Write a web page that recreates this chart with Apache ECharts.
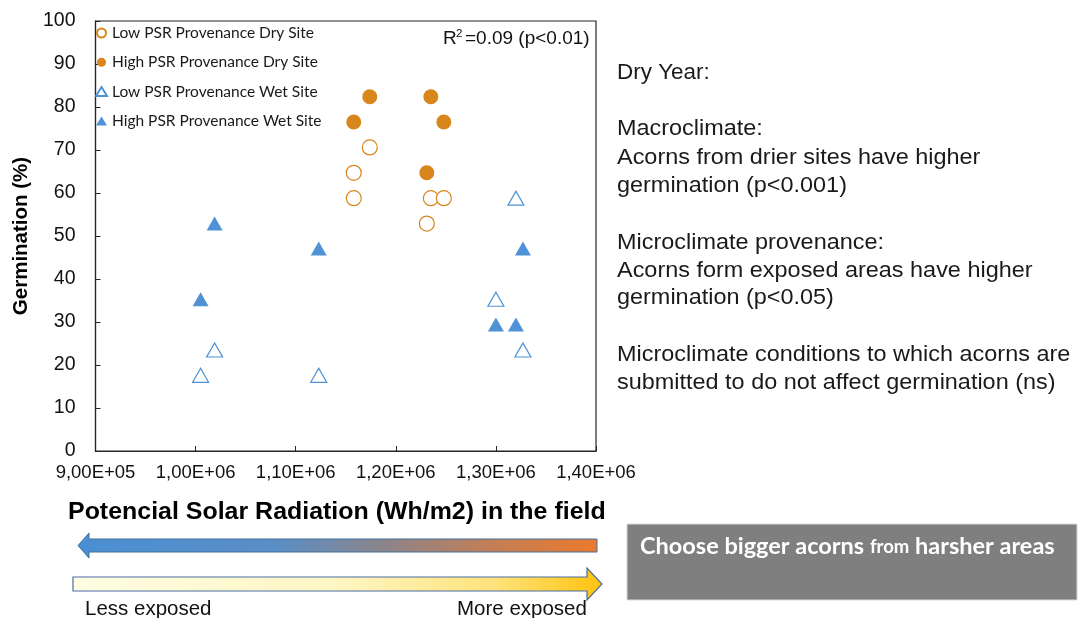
<!DOCTYPE html>
<html>
<head>
<meta charset="utf-8">
<script src="https://cdn.jsdelivr.net/npm/echarts@6/dist/echarts.min.js"></script>
<style>
html,body{margin:0;padding:0;background:#fff;}
#chart{width:1079px;height:618px;}
</style>
</head>
<body>
<div id="chart"></div>
<script>
// ---- Data ----
const seriesNames = ['Low PSR Provenance Dry Site', 'High PSR Provenance Dry Site', 'Low PSR Provenance Wet Site', 'High PSR Provenance Wet Site'];
const lowDryX = [1174000, 1158000, 1158000, 1235000, 1248000, 1231000];
const lowDryY = [70.6, 64.7, 58.8, 58.8, 58.8, 52.9];
const highDryX = [1174000, 1235000, 1158000, 1248000, 1231000];
const highDryY = [82.4, 82.4, 76.5, 76.5, 64.7];
const lowWetX = [1320000, 1300000, 1327000, 1019000, 1005000, 1123000];
const lowWetY = [58.8, 35.3, 23.5, 23.5, 17.6, 17.6];
const highWetX = [1019000, 1005000, 1123000, 1327000, 1300000, 1320000];
const highWetY = [52.9, 35.3, 47.1, 47.1, 29.4, 29.4];
const xTickLabels = ['9,00E+05', '1,00E+06', '1,10E+06', '1,20E+06', '1,30E+06', '1,40E+06'];
const yTickLabels = ['0', '10', '20', '30', '40', '50', '60', '70', '80', '90', '100'];
const rightText = [
  'Dry Year:', '',
  'Macroclimate:',
  'Acorns from drier sites have higher',
  'germination (p<0.001)', '',
  'Microclimate provenance:',
  'Acorns form exposed areas have higher',
  'germination (p<0.05)', '',
  'Microclimate conditions to which acorns are',
  'submitted to do not affect germination (ns)'
];

const pairs = (xs, ys) => xs.map((x, i) => [x, ys[i]]);
const ORANGE = '#d8861c';
const BLUE = '#4f93d6';
const ARIAL = '"Liberation Sans", Arial, sans-serif';
const CAL = 'Lato, "Open Sans", sans-serif';

const chart = echarts.init(document.getElementById('chart'));

const graphics = [];
// right side text
const lineCenters = [73, 101, 129.5, 158, 186, 214, 243, 271, 298.5, 327, 355.5, 383.5];
rightText.forEach((t, i) => {
  if (!t) return;
  graphics.push({
    type: 'text', x: 617, y: lineCenters[i], scaleX: i === 0 ? 1.045 : 1.09,
    style: { text: t, font: '21.5px ' + ARIAL, fill: '#1a1a1a', align: 'left', verticalAlign: 'middle' }
  });
});
// R^2 annotation
graphics.push({ type: 'text', x: 443, y: 39, style: { text: 'R', font: '19px ' + ARIAL, fill: '#111', align: 'left', verticalAlign: 'middle' } });
graphics.push({ type: 'text', x: 456, y: 34, style: { text: '2', font: '11.5px ' + ARIAL, fill: '#111', align: 'left', verticalAlign: 'middle' } });
graphics.push({ type: 'text', x: 465, y: 39, style: { text: '=0.09 (p<0.01)', font: '19px ' + ARIAL, fill: '#111', align: 'left', verticalAlign: 'middle' } });
// bottom title
graphics.push({ type: 'text', x: 68, y: 512, scaleX: 1.018, style: { text: 'Potencial Solar Radiation (Wh/m2) in the field', font: 'bold 24.5px ' + ARIAL, fill: '#000', align: 'left', verticalAlign: 'middle' } });
// arrow 1 (pointing left, blue -> orange)
graphics.push({
  type: 'polygon',
  shape: { points: [[597, 539], [89, 539], [89, 533], [78, 545.5], [89, 558], [89, 552], [597, 552]] },
  style: {
    fill: new echarts.graphic.LinearGradient(0, 0, 1, 0, [
      { offset: 0, color: '#4a8fd3' }, { offset: 0.38, color: '#5a8ec6' },
      { offset: 0.6, color: '#8f8487' }, { offset: 0.8, color: '#c47e55' }, { offset: 1, color: '#ea7a2e' }
    ]),
    stroke: '#41719c', lineWidth: 1
  }
});
// arrow 2 (pointing right, pale yellow -> gold)
graphics.push({
  type: 'polygon',
  shape: { points: [[73, 577], [587, 577], [587, 568], [602, 584], [587, 600], [587, 591], [73, 591]] },
  style: {
    fill: new echarts.graphic.LinearGradient(0, 0, 1, 0, [
      { offset: 0, color: '#fffde3' }, { offset: 0.5, color: '#fff6c4' },
      { offset: 0.8, color: '#ffe27a' }, { offset: 1, color: '#ffc20e' }
    ]),
    stroke: '#4a6f9f', lineWidth: 1.2
  }
});
graphics.push({ type: 'text', x: 85, y: 609, style: { text: 'Less exposed', font: '20.5px ' + ARIAL, fill: '#111', align: 'left', verticalAlign: 'middle' } });
graphics.push({ type: 'text', x: 457, y: 609, style: { text: 'More exposed', font: '20.5px ' + ARIAL, fill: '#111', align: 'left', verticalAlign: 'middle' } });
// gray box
graphics.push({ type: 'rect', shape: { x: 627, y: 524, width: 450, height: 76 }, style: { fill: '#7f7f7f', stroke: '#d9d9d9', lineWidth: 1 } });
graphics.push({
  type: 'text', x: 640, y: 546,
  style: {
    text: 'Choose bigger acorns {s|from} harsher areas',
    font: 'bold 23.5px ' + CAL, fill: '#ffffff', align: 'left', verticalAlign: 'middle',
    rich: { s: { fontSize: 18.5, fontWeight: 'bold', fontFamily: 'Lato', fill: '#ffffff', verticalAlign: 'middle', padding: [3, 0, 0, 0] } }
  }
});

const option = {
  animation: false,
  backgroundColor: '#ffffff',
  grid: { left: 95.5, right: 483, top: 21, bottom: 167, show: true, borderColor: '#262626', borderWidth: 1.2, backgroundColor: 'transparent' },
  legend: {
    data: seriesNames,
    orient: 'vertical', left: 95, top: 25,
    itemWidth: 11, itemHeight: 9, itemGap: 13.3,
    textStyle: { fontFamily: CAL, fontSize: 15.5, color: '#1a1a1a', lineHeight: 14 },
    padding: 0
  },
  xAxis: {
    type: 'value', min: 900000, max: 1400000, interval: 100000,
    axisLine: { show: true, lineStyle: { color: '#262626', width: 1.2 } },
    axisTick: { show: true, inside: true, length: 5, lineStyle: { color: '#262626' } },
    splitLine: { show: false },
    axisLabel: {
      margin: 12, color: '#111', fontFamily: ARIAL, fontSize: 18.5,
      formatter: v => xTickLabels[Math.round((v - 900000) / 100000)]
    }
  },
  yAxis: {
    type: 'value', min: 0, max: 100, interval: 10,
    name: 'Germination (%)', nameLocation: 'middle', nameGap: 64, nameRotate: 90,
    nameTextStyle: { fontFamily: ARIAL, fontWeight: 'bold', fontSize: 20.5, color: '#000' },
    axisLine: { show: true, lineStyle: { color: '#262626', width: 1.2 } },
    axisTick: { show: true, inside: true, length: 5, lineStyle: { color: '#262626' } },
    splitLine: { show: false },
    axisLabel: {
      margin: 20, color: '#111', fontFamily: ARIAL, fontSize: 19.5,
      formatter: v => yTickLabels[Math.round(v / 10)]
    }
  },
  series: [
    { name: seriesNames[0], type: 'scatter', data: pairs(lowDryX, lowDryY), symbol: 'circle', symbolSize: 15,
      itemStyle: { color: '#ffffff', borderColor: ORANGE, borderWidth: 1.2, opacity: 1 } },
    { name: seriesNames[1], type: 'scatter', data: pairs(highDryX, highDryY), symbol: 'circle', symbolSize: 15,
      itemStyle: { color: ORANGE, opacity: 1 } },
    { name: seriesNames[2], type: 'scatter', data: pairs(lowWetX, lowWetY), symbol: 'triangle', symbolSize: [16, 14],
      itemStyle: { color: '#ffffff', borderColor: BLUE, borderWidth: 1.2, opacity: 1 } },
    { name: seriesNames[3], type: 'scatter', data: pairs(highWetX, highWetY), symbol: 'triangle', symbolSize: [16, 14],
      itemStyle: { color: BLUE, opacity: 1 } }
  ],
  graphic: graphics
};
chart.setOption(option);
</script>
</body>
</html>
